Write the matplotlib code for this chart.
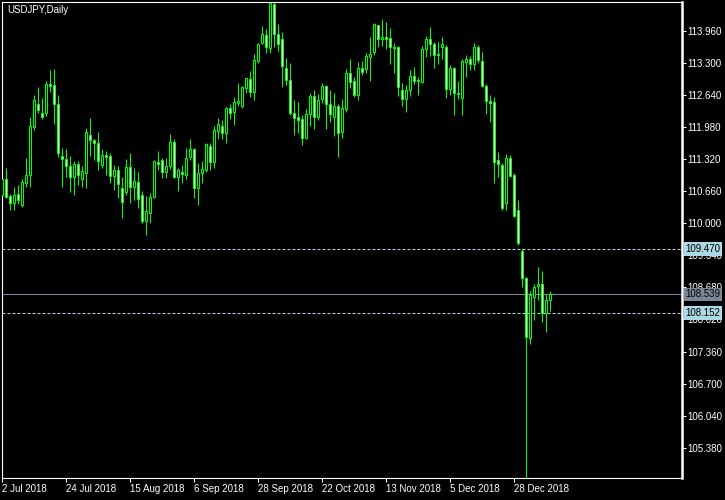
import pandas as pd
import matplotlib
matplotlib.use("Agg")
import matplotlib.pyplot as plt
import matplotlib.transforms as mtransforms

# --- USDJPY daily bars, 2 Jul 2018 .. 11 Jan 2019 ---
opens = [110.58, 110.91, 110.56, 110.41, 110.61, 110.37, 110.82, 110.99, 111.98, 112.45,
         112.27, 112.26, 112.86, 112.84, 112.45, 111.38, 111.33, 111.18, 110.96, 111.21,
         110.91, 111.03, 111.81, 111.71, 111.66, 111.20, 111.40, 111.38, 110.98, 111.09,
         110.72, 110.65, 111.15, 110.74, 110.85, 110.58, 110.05, 110.22, 110.54, 111.25,
         111.31, 111.05, 111.18, 111.68, 110.96, 111.05, 111.00, 111.37, 111.52, 110.73,
         111.03, 111.09, 111.59, 111.25, 111.90, 112.00, 111.85, 112.36, 112.28, 112.48,
         112.41, 112.79, 112.96, 112.70, 113.34, 113.70, 113.87, 113.61, 114.51, 113.89,
         113.78, 113.20, 112.95, 112.26, 112.18, 112.14, 111.76, 112.24, 112.62, 112.18,
         112.55, 112.82, 112.45, 112.19, 112.41, 111.88, 112.34, 113.08, 112.92, 112.64,
         113.19, 113.17, 113.41, 113.53, 114.08, 113.79, 113.82, 113.80, 113.63, 113.62,
         112.75, 112.55, 112.75, 113.03, 112.95, 112.91, 113.58, 113.78, 113.68, 113.48,
         113.63, 113.63, 112.77, 113.19, 112.68, 112.57, 113.32, 113.37, 113.27, 113.62,
         113.34, 112.82, 112.51, 112.49, 111.30, 111.20, 110.41, 111.35, 110.99, 110.27,
         109.43, 108.87, 107.63, 108.49, 108.70, 108.74, 108.16, 108.43]
highs = [110.97, 111.14, 110.61, 110.75, 110.79, 110.91, 111.35, 112.19, 112.64, 112.81,
         112.58, 112.92, 113.15, 113.17, 112.64, 111.55, 111.52, 111.38, 111.27, 111.27,
         111.18, 111.95, 112.16, 111.74, 111.88, 111.53, 111.48, 111.44, 111.20, 111.18,
         110.96, 111.32, 111.44, 111.13, 111.06, 110.67, 110.56, 110.63, 111.31, 111.48,
         111.35, 111.35, 111.83, 111.74, 111.13, 111.20, 111.54, 111.74, 111.54, 111.24,
         111.27, 111.64, 111.64, 112.00, 112.16, 112.12, 112.40, 112.45, 112.59, 112.88,
         112.83, 112.98, 113.13, 113.48, 113.71, 114.06, 113.99, 114.55, 114.54, 114.10,
         113.93, 113.39, 113.29, 112.53, 112.49, 112.23, 112.35, 112.67, 112.74, 112.65,
         112.88, 112.84, 112.74, 112.67, 112.45, 112.55, 113.17, 113.37, 113.00, 113.32,
         113.34, 113.51, 113.84, 114.11, 114.08, 114.20, 114.13, 114.01, 113.71, 113.65,
         112.88, 112.84, 113.15, 113.21, 113.00, 113.65, 113.85, 114.03, 113.73, 113.73,
         113.82, 113.67, 113.25, 113.21, 112.92, 113.37, 113.46, 113.43, 113.71, 113.67,
         113.53, 112.86, 112.64, 112.59, 111.47, 111.23, 111.42, 111.40, 111.04, 110.48,
         109.46, 108.90, 108.60, 108.75, 109.09, 109.02, 108.54, 108.60]
lows = [110.52, 110.51, 110.27, 110.27, 110.40, 110.34, 110.75, 110.75, 111.92, 112.26,
        112.14, 112.21, 112.70, 112.05, 111.37, 110.75, 110.96, 110.65, 110.58, 110.79,
        110.75, 110.72, 111.39, 111.30, 111.09, 111.13, 110.99, 110.83, 110.68, 110.51,
        110.11, 110.58, 110.42, 110.48, 110.31, 110.00, 109.76, 110.01, 110.51, 111.09,
        110.94, 110.94, 111.11, 110.92, 110.67, 110.83, 110.90, 111.31, 110.51, 110.37,
        110.83, 111.06, 111.09, 111.14, 111.73, 111.74, 111.66, 112.14, 112.02, 112.41,
        112.38, 112.67, 112.60, 112.53, 113.29, 113.69, 113.51, 113.51, 113.63, 113.55,
        112.81, 112.84, 112.23, 111.81, 111.85, 111.61, 111.73, 112.00, 111.94, 112.12,
        112.47, 111.94, 112.09, 111.79, 111.37, 111.76, 112.29, 112.79, 112.60, 112.53,
        113.05, 113.08, 112.93, 113.46, 113.63, 113.65, 113.58, 113.28, 113.10, 112.62,
        112.41, 112.29, 112.62, 112.86, 112.64, 112.88, 113.41, 113.43, 113.19, 113.27,
        113.37, 112.57, 112.64, 112.22, 112.55, 112.22, 113.00, 113.15, 113.15, 113.29,
        112.81, 112.24, 112.09, 110.82, 110.96, 110.28, 110.28, 110.95, 110.13, 109.55,
        108.69, 104.76, 107.51, 108.01, 108.42, 107.97, 107.77, 108.19]
closes = [110.91, 110.54, 110.42, 110.59, 110.48, 110.84, 110.99, 112.00, 112.53, 112.33,
          112.19, 112.86, 112.83, 112.45, 111.44, 111.32, 111.18, 110.96, 111.22, 111.00,
          111.07, 111.87, 111.71, 111.66, 111.27, 111.40, 111.37, 110.98, 111.09, 110.80,
          110.43, 111.15, 110.74, 110.87, 110.49, 110.05, 110.26, 110.54, 111.27, 111.22,
          111.06, 111.18, 111.68, 110.96, 111.09, 111.02, 111.35, 111.52, 110.73, 111.04,
          111.11, 111.62, 111.25, 111.92, 112.05, 111.85, 112.36, 112.26, 112.49, 112.51,
          112.80, 112.98, 112.70, 113.36, 113.69, 113.89, 113.63, 114.52, 113.89, 113.68,
          113.23, 112.95, 112.26, 112.16, 112.12, 111.76, 112.24, 112.62, 112.18, 112.53,
          112.82, 112.45, 112.24, 112.41, 111.86, 112.36, 113.08, 112.91, 112.64, 113.19,
          113.12, 113.44, 113.49, 114.09, 113.78, 113.82, 113.79, 113.62, 113.60, 112.81,
          112.55, 112.75, 113.03, 112.93, 112.92, 113.58, 113.78, 113.68, 113.47, 113.46,
          113.68, 112.77, 113.19, 112.67, 112.66, 113.34, 113.37, 113.27, 113.62, 113.36,
          112.83, 112.51, 112.47, 111.26, 111.21, 110.32, 111.35, 110.97, 110.15, 109.60,
          108.87, 107.66, 108.52, 108.69, 108.74, 108.16, 108.43, 108.539]

symbol_title = "USDJPY,Daily"
price_ticks = [105.380, 106.040, 106.700, 107.360, 108.020, 108.680,
               109.340, 110.000, 110.660, 111.320, 111.980, 112.640,
               113.300, 113.960]
level_lines = [109.470, 108.152]   # dashed light-blue levels
current_price = 108.539
date_tick_every = 16

# trading days (broker skips 25 Dec and 1 Jan)
dates = pd.bdate_range("2018-07-02", "2019-01-11")
dates = dates[~dates.isin(pd.to_datetime(["2018-12-25", "2019-01-01"]))]

# --- Plotting ---
FONT = "Liberation Sans"
fig = plt.figure(figsize=(7.25, 5.0), dpi=100, facecolor="black")
ax = fig.add_axes([2 / 725, 22 / 500, 680 / 725, 476 / 500], facecolor="black")

lime = "#00ff00"
xs = list(range(len(opens)))
ax.vlines(xs, lows, highs, color=lime, linewidth=0.75, zorder=2)
bottoms = [min(o, c) for o, c in zip(opens, closes)]
heights = [abs(c - o) for o, c in zip(opens, closes)]
fills = ["black" if c > o else "white" for o, c in zip(opens, closes)]
ax.bar(xs, heights, bottom=bottoms, width=0.5, color=fills,
       edgecolor=lime, linewidth=0.75, zorder=3)

# horizontal levels
for lvl in level_lines:
    ax.axhline(lvl, color="#add8e6", linewidth=0.75, linestyle=(0, (2.9, 1.9)), zorder=1)
ax.axhline(current_price, color="#778899", linewidth=0.75, zorder=1)

ax.set_xlim(-0.08, 169.92)
ax.set_ylim(104.76, 114.55)

# date axis
tick_pos = list(range(0, len(dates), date_tick_every))
tick_lab = [f"{dates[i].day} {dates[i].strftime('%b %Y')}" for i in tick_pos]
ax.set_xticks(tick_pos)
ax.set_xticklabels(tick_lab, ha="left", fontsize=7, family=FONT, color="white")
ax.tick_params(axis="x", colors="white", length=3, width=0.8, pad=1)

# price axis on the right
ax.yaxis.tick_right()
ax.set_yticks(price_ticks)
ax.set_yticklabels([f"{p:.3f}" for p in price_ticks], fontsize=7, family=FONT, color="white")
ax.tick_params(axis="y", colors="white", length=3, width=0.8, pad=1)

for side in ["left", "top", "bottom"]:
    ax.spines[side].set_color("white")
    ax.spines[side].set_linewidth(0.8)
ax.spines["right"].set_color("white")
ax.spines["right"].set_linewidth(1.8)

# price labels for the levels
trans = mtransforms.blended_transform_factory(ax.transAxes, ax.transData)
for lvl in level_lines:
    ax.text(1.005, lvl, f"{lvl:.3f}", transform=trans, fontsize=7, family=FONT,
            color="black", va="center", ha="left", zorder=5,
            bbox=dict(boxstyle="square,pad=0.18", facecolor="#add8e6", edgecolor="none"))
ax.text(1.005, current_price, f"{current_price:.3f}", transform=trans, fontsize=7,
        family=FONT, color="black", va="center", ha="left", zorder=5,
        bbox=dict(boxstyle="square,pad=0.18", facecolor="#778899", edgecolor="none"))

ax.text(0.007, 0.994, symbol_title, transform=ax.transAxes, fontsize=7, family=FONT,
        color="white", va="top", ha="left")

fig.savefig("out.png", dpi=100, facecolor="black")
